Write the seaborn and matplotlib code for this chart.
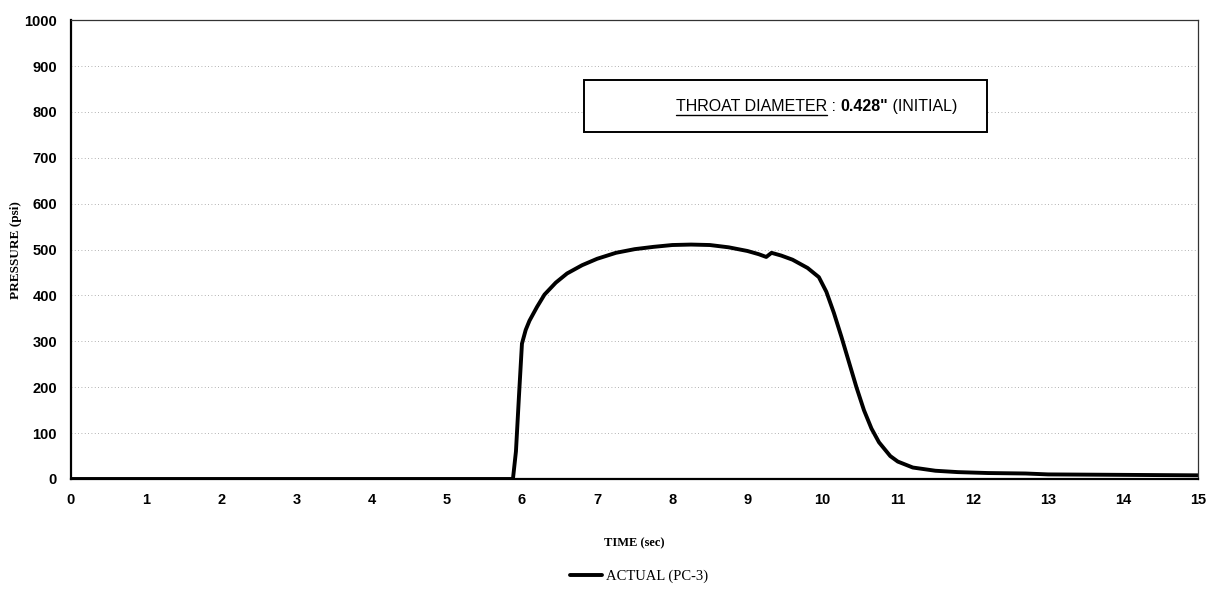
import matplotlib
matplotlib.use('Agg')
import matplotlib.pyplot as plt
import seaborn as sns
import pandas as pd
from matplotlib.patches import Rectangle
from matplotlib.lines import Line2D

# chamber pressure trace
time_sec = [0, 1, 2, 3, 4, 5, 5.88, 5.92, 5.96, 6.0, 6.05, 6.1, 6.2, 6.3, 6.45, 6.6, 6.8,
            7.0, 7.25, 7.5, 7.75, 8.0, 8.25, 8.5, 8.75, 9.0, 9.15, 9.25, 9.32, 9.45, 9.6,
            9.8, 9.95, 10.05, 10.15, 10.25, 10.35, 10.45, 10.55, 10.65, 10.75, 10.9, 11.0,
            11.2, 11.5, 11.8, 12.2, 12.7, 13.0, 14.0, 15.0]
pressure_psi = [0, 0, 0, 0, 0, 0, 0, 60, 180, 295, 325, 345, 375, 402, 428, 448, 466,
                480, 493, 501, 506, 510, 511, 510, 505, 497, 490, 484, 493, 487, 478,
                460, 440, 408, 362, 310, 255, 200, 150, 110, 80, 50, 38,
                25, 18, 15, 13, 12, 10, 9, 8]

x_ticks = list(range(0, 16))
y_ticks = list(range(0, 1001, 100))

df = pd.DataFrame({'time': time_sec, 'pressure': pressure_psi})

sns.set_style('white')
plt.rcParams['font.family'] = ['Liberation Sans', 'DejaVu Sans']
plt.rcParams['text.color'] = 'black'
plt.rcParams['axes.labelcolor'] = 'black'
plt.rcParams['xtick.color'] = 'black'
plt.rcParams['ytick.color'] = 'black'

fig = plt.figure(figsize=(12.13, 6.13), dpi=100)
ax = fig.add_axes([0.0585, 0.2186, 0.9295, 0.7484])

sns.lineplot(data=df, x='time', y='pressure', ax=ax, color='black', linewidth=2.8,
             sort=False, legend=False)

ax.set_xlim(0, 15)
ax.set_ylim(0, 1000)
ax.set_xticks(x_ticks)
ax.set_yticks(y_ticks)
ax.set_xticklabels([str(t) for t in x_ticks], fontsize=10.5, fontweight='bold')
ax.set_yticklabels([str(t) for t in y_ticks], fontsize=10.5, fontweight='bold')
ax.tick_params(axis='both', direction='out', length=4, width=1, color='black', pad=6)
ax.grid(axis='y', linestyle=(0, (1, 3)), color='#999999', linewidth=0.6)

for side in ['left', 'bottom']:
    ax.spines[side].set_linewidth(1.6)
    ax.spines[side].set_color('black')
for side in ['top', 'right']:
    ax.spines[side].set_linewidth(0.9)
    ax.spines[side].set_color('#333333')

ax.set_xlabel('TIME (sec)', family=['Liberation Serif'], fontweight='bold', fontsize=9,
              labelpad=22)
ax.set_ylabel('PRESSURE (psi)', family=['Liberation Serif'], fontweight='bold', fontsize=9.5,
              labelpad=2)

# annotation box
ax.add_patch(Rectangle((6.82, 757), 5.37, 113, fill=True, facecolor='white',
                       edgecolor='black', linewidth=1.4, zorder=4))
t1 = ax.text(8.05, 813, 'THROAT DIAMETER', fontsize=11.5, va='center', ha='left', zorder=5)
t2 = ax.annotate(' : ', xycoords=t1, xy=(1, 0), va='bottom', ha='left', fontsize=11.5,
                 zorder=5)
t3 = ax.annotate('0.428"', xycoords=t2, xy=(1, 0), va='bottom', ha='left', fontsize=11.5,
                 fontweight='bold', zorder=5)
t4 = ax.annotate(' (INITIAL)', xycoords=t3, xy=(1, 0), va='bottom', ha='left', fontsize=11.5,
                 zorder=5)
fig.canvas.draw()
bb = t1.get_window_extent().transformed(fig.transFigure.inverted())
fig.add_artist(Line2D([bb.x0, bb.x1], [bb.y0 - 0.002, bb.y0 - 0.002], color='black',
                      linewidth=1.0, transform=fig.transFigure))

handle = Line2D([], [], color='black', linewidth=2.8)
fig.legend([handle], ['ACTUAL (PC-3)'], loc='center', bbox_to_anchor=(0.527, 0.06),
           frameon=False, handlelength=2.2, handletextpad=0.3,
           prop={'family': 'Liberation Serif', 'size': 10.5})

fig.savefig('out.png', dpi=100)
